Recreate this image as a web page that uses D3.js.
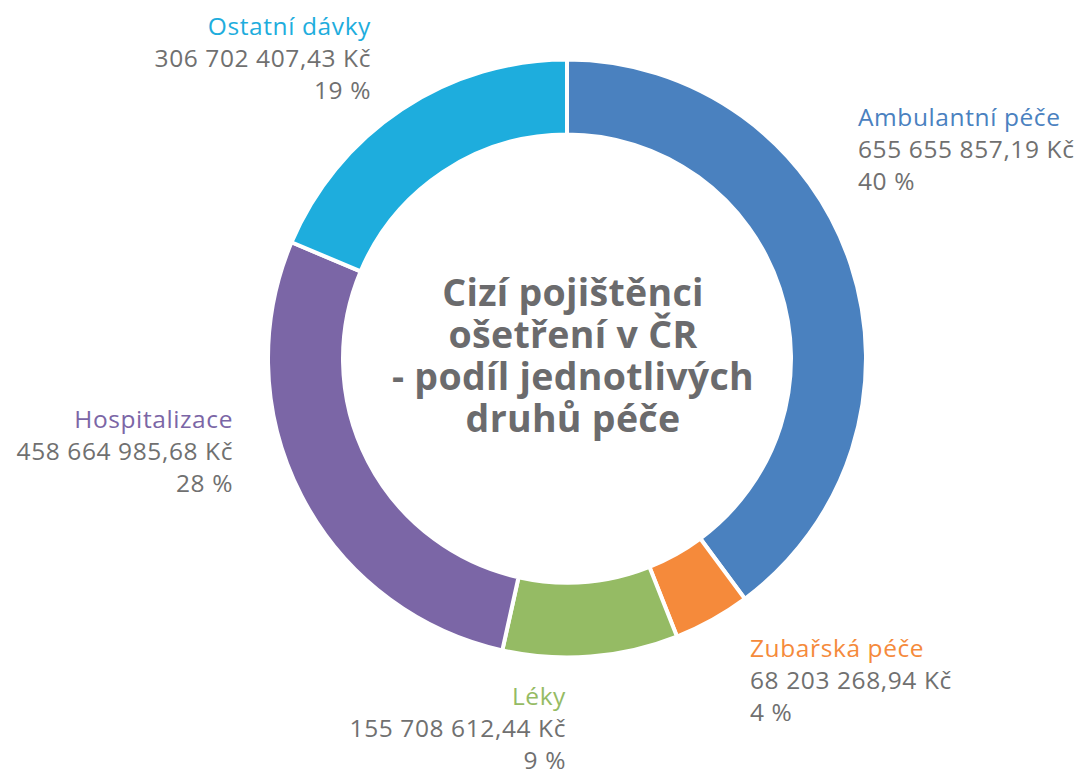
<!DOCTYPE html>
<html>
<head>
<meta charset="utf-8">
<script src="https://cdn.jsdelivr.net/npm/d3@7"></script>
<style>
  html, body { margin: 0; padding: 0; background: #fff; }
  svg { display: block; font-family: "Open Sans", "DejaVu Sans", sans-serif; }
</style>
</head>
<body>
<svg id="chart" width="1085" height="772"></svg>
<script>
  // categories clockwise from 12 o'clock
  const categories = ['Ambulantní péče', 'Zubařská péče', 'Léky', 'Hospitalizace', 'Ostatní dávky'];
  const amounts = [655655857.19, 68203268.94, 155708612.44, 458664985.68, 306702407.43];
  const amountLabels = ['655 655 857,19 Kč', '68 203 268,94 Kč', '155 708 612,44 Kč', '458 664 985,68 Kč', '306 702 407,43 Kč'];
  const percentLabels = ['40 %', '4 %', '9 %', '28 %', '19 %'];
  const colors = ['#4a81bf', '#f58a3b', '#95bb64', '#7b66a6', '#1eaddd'];
  const titleLines = ['Cizí pojištěnci', 'ošetření v ČR', '- podíl jednotlivých', 'druhů péče'];

  // label placement (anchor x, first baseline y, alignment)
  const labelPos = [
    { x: 858, y: 126, anchor: 'start' },
    { x: 750, y: 657, anchor: 'start' },
    { x: 566, y: 705, anchor: 'end' },
    { x: 233, y: 428, anchor: 'end' },
    { x: 371, y: 35, anchor: 'end' }
  ];

  const cx = 567, cy = 358.5, outerR = 299, innerR = 224;
  const svg = d3.select('#chart');
  const g = svg.append('g').attr('transform', `translate(${cx},${cy})`);

  const data = categories.map((c, i) => ({ name: c, value: amounts[i], i }));
  const pie = d3.pie().value(d => d.value).sort(null);
  const arc = d3.arc().innerRadius(innerR).outerRadius(outerR);

  g.selectAll('path')
    .data(pie(data))
    .join('path')
    .attr('d', arc)
    .attr('fill', d => colors[d.data.i])
    .attr('stroke', '#fff')
    .attr('stroke-width', 4)
    .attr('stroke-linejoin', 'miter');

  // labels
  const lineH = 32;
  data.forEach((d, i) => {
    const p = labelPos[i];
    const t = svg.append('text')
      .attr('text-anchor', p.anchor)
      .attr('font-size', 24.5)
      .attr('letter-spacing', 0.6);
    t.append('tspan').attr('x', p.x).attr('y', p.y).attr('fill', colors[i]).text(d.name);
    t.append('tspan').attr('x', p.x).attr('y', p.y + lineH).attr('fill', '#707070').text(amountLabels[i]);
    t.append('tspan').attr('x', p.x).attr('y', p.y + 2 * lineH).attr('fill', '#707070').text(percentLabels[i]);
  });

  // centre title
  const title = svg.append('text')
    .attr('text-anchor', 'middle')
    .attr('font-weight', 'bold')
    .attr('font-size', 37.5)
    .attr('letter-spacing', 0.3)
    .attr('fill', '#6b6b6d');
  titleLines.forEach((l, i) => {
    title.append('tspan').attr('x', 573).attr('y', 306 + i * 42).text(l);
  });
</script>
</body>
</html>
